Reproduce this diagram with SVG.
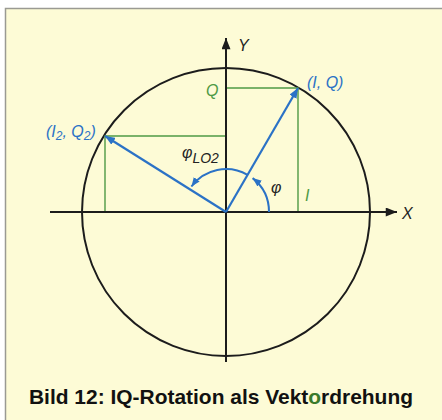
<svg xmlns="http://www.w3.org/2000/svg" width="442" height="420" viewBox="0 0 442 420">
<defs>
<style>
.axis{stroke:#1c1c1c;stroke-width:2;fill:none}
.grn{stroke:#4f9a45;stroke-width:1.4;fill:none}
.vec{stroke:#2b72c6;stroke-width:2.2;fill:none}
.arc{stroke:#2b72c6;stroke-width:2;fill:none}
.lbl{font-family:"Liberation Sans",Arial,sans-serif;font-style:italic;font-size:16px}
.blue{fill:#2b72c6}
.green{fill:#4f9a45}
.dark{fill:#222}
</style>
<marker id="ah" viewBox="0 0 10 8" refX="10" refY="4" markerWidth="10" markerHeight="8" markerUnits="userSpaceOnUse" orient="auto"><path d="M0,0 L10,4 L0,8 z" fill="#2b72c6"/></marker>
<marker id="ahs" viewBox="0 0 10 8" refX="10" refY="4" markerWidth="9" markerHeight="7.5" markerUnits="userSpaceOnUse" orient="auto"><path d="M0,0 L10,4 L0,8 z" fill="#2b72c6"/></marker>
<marker id="ak" viewBox="0 0 10 8" refX="10" refY="4" markerWidth="14" markerHeight="9" markerUnits="userSpaceOnUse" orient="auto"><path d="M0,0 L10,4 L0,8 z" fill="#1c1c1c"/></marker>
</defs>
<rect x="0" y="0" width="442" height="420" fill="#ffffff"/>
<rect x="5.5" y="8.5" width="440" height="415" fill="#fdfbd6" stroke="#9a9a92" stroke-width="1.5"/>
<g id="circle"><circle cx="226" cy="212" r="144" fill="none" stroke="#1c1c1c" stroke-width="2"/></g>
<g id="projections">
<polyline class="grn" points="226,88 298,88 298,212"/>
<polyline class="grn" points="226,136 105,136 105,212"/>
</g>
<g id="connectors">
<line class="axis" x1="50" y1="212" x2="397" y2="212" marker-end="url(#ak)"/>
<line class="axis" x1="226" y1="362" x2="226" y2="38" marker-end="url(#ak)"/>
<line class="vec" x1="226" y1="212" x2="298" y2="88" marker-end="url(#ah)"/>
<line class="vec" x1="226" y1="212" x2="105" y2="136" marker-end="url(#ah)"/>
<path class="arc" d="M269,212 A43,43 0 0 0 252.6,178.1" marker-end="url(#ahs)"/>
<path class="arc" d="M247.5,174.8 A43,43 0 0 0 191.4,186.5" marker-end="url(#ahs)"/>
</g>
<g id="labels">
<text class="lbl dark" x="238" y="51" font-size="18">Y</text>
<text class="lbl dark" x="402" y="219" font-size="18">X</text>
<text class="lbl green" x="206" y="96" font-size="18">Q</text>
<text class="lbl green" x="305" y="201" font-size="18">I</text>
<text class="lbl blue" x="307" y="88">(I, Q)</text>
<text class="lbl blue" x="46" y="137">(I<tspan font-size="12" dy="3">2</tspan><tspan dy="-3">, Q</tspan><tspan font-size="12" dy="3">2</tspan><tspan dy="-3">)</tspan></text>
<text class="lbl dark" x="182" y="158" font-size="17">φ<tspan font-size="14" dy="5">LO2</tspan></text>
<text class="lbl dark" x="271" y="193" font-size="17">φ</text>
</g>
<g id="caption">
<text x="29" y="404" font-family="'Liberation Sans',Arial,sans-serif" font-weight="bold" font-size="20.5" fill="#111" textLength="384" lengthAdjust="spacingAndGlyphs">Bild 12: IQ-Rotation als Vekt<tspan fill="#3a7a2a">o</tspan>rdrehung</text>
</g>
</svg>
